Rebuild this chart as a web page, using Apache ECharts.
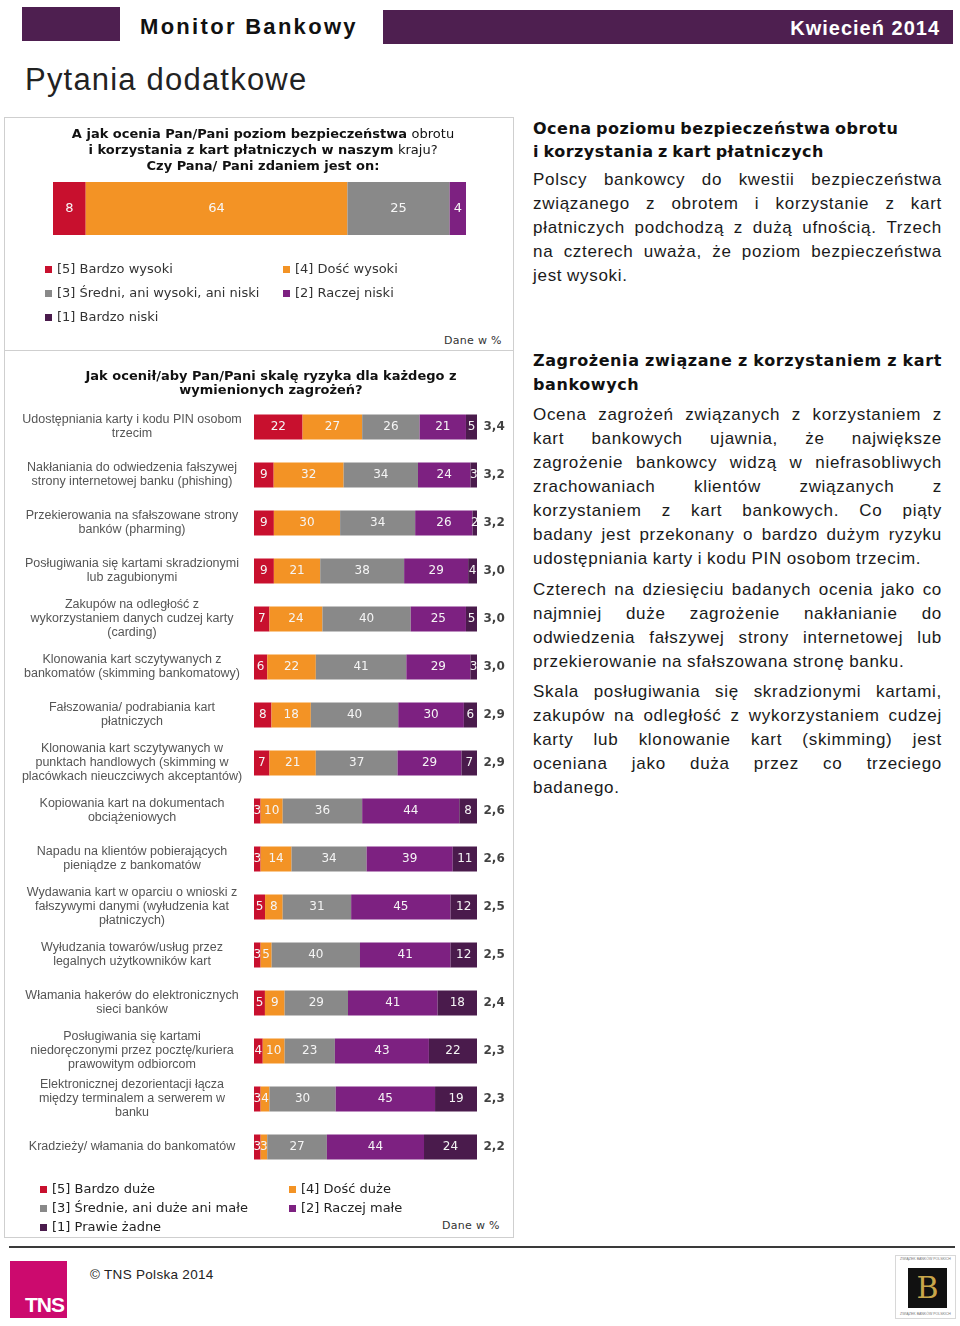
<!DOCTYPE html>
<html><head><meta charset="utf-8">
<script src="https://cdn.jsdelivr.net/npm/echarts@6/dist/echarts.min.js"></script>
<style>
body{margin:0;background:#fff;}
#page{position:relative;width:960px;height:1326px;overflow:hidden;font-family:"Liberation Sans",Arial,sans-serif;color:#222;background:#fff;}
.abs{position:absolute;}
.line{display:flex;justify-content:space-between;white-space:nowrap;}
.line.last{justify-content:flex-start;}
.line.last span{margin-right:0.28em;}
.body{font-family:"Liberation Sans",Arial,sans-serif;font-size:17px;line-height:24px;color:#1a1a1a;letter-spacing:0.7px;}
.head{font-family:"DejaVu Sans",Verdana,sans-serif;font-weight:bold;font-size:16px;color:#111;}
</style>
</head><body>
<div id="page">
  <!-- header -->
  <div class="abs" style="left:22px;top:7px;width:98px;height:34px;background:#4E1F50;"></div>
  <div class="abs" style="left:140px;top:12px;font-weight:bold;font-size:22px;letter-spacing:2.3px;color:#111;line-height:30px;">Monitor Bankowy</div>
  <div class="abs" style="left:383px;top:10px;width:570px;height:34px;background:#4E1F50;"></div>
  <div class="abs" style="right:20px;top:13px;font-weight:bold;font-size:20px;letter-spacing:1px;color:#fff;line-height:30px;">Kwiecień 2014</div>
  <div class="abs" style="left:25px;top:61px;font-size:31px;letter-spacing:1.2px;color:#222;line-height:38px;">Pytania dodatkowe</div>

  <!-- frames -->
  <div class="abs" style="left:4px;top:117px;width:510px;height:1121px;border:1px solid #cfcfcf;box-sizing:border-box;"></div>
  <div class="abs" style="left:4px;top:350px;width:510px;height:1px;background:#cfcfcf;"></div>
  <div class="abs" style="left:444px;top:334px;font-family:'DejaVu Sans',sans-serif;font-size:11px;letter-spacing:0.3px;color:#333;">Dane w %</div>
  <div class="abs" style="left:442px;top:1219px;font-family:'DejaVu Sans',sans-serif;font-size:11px;letter-spacing:0.3px;color:#333;">Dane w %</div>

  <div id="c1" class="abs" style="left:0;top:117px;width:520px;height:225px;"></div>
  <div id="c2" class="abs" style="left:0;top:351px;width:520px;height:885px;"></div>

  <!-- footer -->
  <div class="abs" style="left:9px;top:1246px;width:946px;height:2px;background:#3a3a3a;"></div>
  <div class="abs" style="left:10px;top:1261px;width:57px;height:57px;background:#CC0A6E;"></div>
  <div class="abs" style="left:10px;top:1292px;width:54px;text-align:right;font-weight:bold;font-size:21px;color:#fff;letter-spacing:-1px;line-height:26px;">TNS</div>
  <div class="abs" style="left:90px;top:1266px;font-size:13.5px;color:#222;letter-spacing:0.3px;line-height:18px;">© TNS Polska 2014</div>
  <div class="abs" style="left:895px;top:1255px;width:61px;height:64px;border:1px solid #d8d8d8;box-sizing:border-box;"></div>
  <div class="abs" style="left:897px;top:1257px;width:57px;text-align:center;font-size:3.5px;color:#777;line-height:5px;">ZWIĄZEK BANKÓW POLSKICH</div>
  <div class="abs" style="left:897px;top:1312px;width:57px;text-align:center;font-size:3.5px;color:#777;line-height:5px;">ZWIĄZEK BANKÓW POLSKICH</div>
  <div class="abs" style="left:908px;top:1268px;width:39px;height:40px;background:#111;"></div>
  <div class="abs" style="left:908px;top:1268px;width:39px;text-align:center;font-family:'DejaVu Serif',serif;font-size:30px;line-height:40px;color:#C9A64A;">B</div>
</div>

<script>
// ---------- DATA ----------
const topSeriesNames = ['[5] Bardzo wysoki','[4] Dość wysoki','[3] Średni, ani wysoki, ani niski','[2] Raczej niski','[1] Bardzo niski'];
const topValues = [8, 64, 25, 4, 0];

const riskSeriesNames = ['[5] Bardzo duże','[4] Dość duże','[3] Średnie, ani duże ani małe','[2] Raczej małe','[1] Prawie żadne'];
const riskCategories = [
  'Udostępniania karty i kodu PIN osobom\ntrzecim',
  'Nakłaniania do odwiedzenia fałszywej\nstrony internetowej banku (phishing)',
  'Przekierowania na sfałszowane strony\nbanków (pharming)',
  'Posługiwania się kartami skradzionymi\nlub zagubionymi',
  'Zakupów na odległość z\nwykorzystaniem danych cudzej karty\n(carding)',
  'Klonowania kart sczytywanych z\nbankomatów (skimming bankomatowy)',
  'Fałszowania/ podrabiania kart\npłatniczych',
  'Klonowania kart sczytywanych w\npunktach handlowych (skimming w\nplacówkach nieuczciwych akceptantów)',
  'Kopiowania kart na dokumentach\nobciążeniowych',
  'Napadu na klientów pobierających\npieniądze z bankomatów',
  'Wydawania kart w oparciu o wnioski z\nfałszywymi danymi (wyłudzenia kat\npłatniczych)',
  'Wyłudzania towarów/usług przez\nlegalnych użytkowników kart',
  'Włamania hakerów do elektronicznych\nsieci banków',
  'Posługiwania się kartami\nniedoręczonymi przez pocztę/kuriera\nprawowitym odbiorcom',
  'Elektronicznej dezorientacji łącza\nmiędzy terminalem a serwerem w\nbanku',
  'Kradzieży/ włamania do bankomatów'
];
const risk5 = [22, 9, 9, 9, 7, 6, 8, 7, 3, 3, 5, 3, 5, 4, 3, 3];
const risk4 = [27,32,30,21,24,22,18,21,10,14, 8, 5, 9,10, 4, 3];
const risk3 = [26,34,34,38,40,41,40,37,36,34,31,40,29,23,30,27];
const risk2 = [21,24,26,29,25,29,30,29,44,39,45,41,41,43,45,44];
const risk1 = [ 5, 3, 2, 4, 5, 3, 6, 7, 8,11,12,12,18,22,19,24];
const riskMeans = ['3,4','3,2','3,2','3,0','3,0','3,0','2,9','2,9','2,6','2,6','2,5','2,5','2,4','2,3','2,3','2,2'];

const colors = ['#C8102E','#F39325','#898989','#7D2181','#4A1B4C'];

// ---------- RIGHT TEXT ----------
const heading1 = ['Ocena poziomu bezpieczeństwa obrotu','i korzystania z kart płatniczych'];
const para1 = ['Polscy bankowcy do kwestii bezpieczeństwa','związanego z obrotem i korzystanie z kart','płatniczych podchodzą z dużą ufnością. Trzech','na czterech uważa, że poziom bezpieczeństwa','jest wysoki.'];
const heading2 = ['Zagrożenia związane z korzystaniem z kart','bankowych'];
const para2 = ['Ocena zagrożeń związanych z korzystaniem z','kart bankowych ujawnia, że największe','zagrożenie bankowcy widzą w niefrasobliwych','zrachowaniach klientów związanych z','korzystaniem z kart bankowych. Co piąty','badany jest przekonany o bardzo dużym ryzyku','udostępniania karty i kodu PIN osobom trzecim.'];
const para3 = ['Czterech na dziesięciu badanych ocenia jako co','najmniej duże zagrożenie nakłanianie do','odwiedzenia fałszywej strony internetowej lub','przekierowanie na sfałszowana stronę banku.'];
const para4 = ['Skala posługiwania się skradzionymi kartami,','zakupów na odległość z wykorzystaniem cudzej','karty lub klonowanie kart (skimming) jest','oceniana jako duża przez co trzeciego','badanego.'];

function block(lines, top, cls, lh, extraStyle){
  const d = document.createElement('div');
  d.className = 'abs ' + cls;
  d.style.left = '533px'; d.style.top = top + 'px'; d.style.width = '409px';
  d.style.lineHeight = lh + 'px';
  if (extraStyle) Object.assign(d.style, extraStyle);
  lines.forEach((ln, i) => {
    const l = document.createElement('div');
    const isLast = (i === lines.length - 1);
    l.className = 'line' + (isLast ? ' last' : '');
    ln.split(' ').forEach(w => { const s = document.createElement('span'); s.textContent = w; l.appendChild(s); });
    d.appendChild(l);
  });
  document.getElementById('page').appendChild(d);
  return d;
}
const h1 = block(heading1, 117, 'head', 23, {letterSpacing:'0.5px'});
h1.querySelectorAll('.line').forEach(l => l.className = 'line last');
block(para1, 168, 'body', 24);
block(heading2, 349, 'head', 24, {letterSpacing:'0.6px'});
block(para2, 403, 'body', 24);
block(para3, 578, 'body', 24);
block(para4, 680, 'body', 24);

// ---------- CHART 1 ----------
const topSum = topValues.reduce((a,b)=>a+b,0);
const c1 = echarts.init(document.getElementById('c1'), null, {renderer:'canvas'});
c1.setOption({
  animation:false,
  title:{
    text:'{b|A jak ocenia Pan/Pani poziom bezpieczeństwa }{n|obrotu}\n{b|i korzystania z kart płatniczych w naszym }{n|kraju?}\n{b|Czy Pana/ Pani zdaniem jest on:}',
    left:258, top:5, textAlign:'center',
    textStyle:{fontFamily:'DejaVu Sans', fontSize:13, lineHeight:16, color:'#111',
      rich:{b:{fontFamily:'DejaVu Sans', fontWeight:'bold', fontSize:13, lineHeight:16, color:'#111'},
            n:{fontFamily:'DejaVu Sans', fontWeight:'normal', fontSize:13, lineHeight:16, color:'#111'}}}
  },
  grid:{left:53, top:65, width:413, height:53},
  xAxis:{type:'value', min:0, max:100, show:false},
  yAxis:{type:'category', data:[''], show:false},
  legend: topSeriesNames.map((n,i)=>({
    data:[n], icon:'rect', itemWidth:7, itemHeight:7, itemGap:0, padding:0, selectedMode:false,
    left: (i%2===0) ? 45 : 283,
    top: [146,146,170,170,194][i],
    textStyle:{fontFamily:'DejaVu Sans', fontSize:13, color:'#333'}
  })),
  series: topSeriesNames.map((n,i)=>({
    name:n, type:'bar', stack:'t', barWidth:53,
    itemStyle:{color:colors[i]},
    label:{show:true, position:'inside', color:'#f7f7f7', fontFamily:'DejaVu Sans', fontSize:13,
      formatter:p=> p.data.raw ? String(p.data.raw) : ''},
    data:[{value: topValues[i]/topSum*100, raw: topValues[i]}]
  }))
});

// ---------- CHART 2 ----------
const riskSeries = [risk5, risk4, risk3, risk2, risk1];
const rowSums = riskCategories.map((_,r)=>riskSeries.reduce((a,s)=>a+s[r],0));
const c2 = echarts.init(document.getElementById('c2'), null, {renderer:'canvas'});
const series2 = riskSeriesNames.map((n,i)=>({
  name:n, type:'bar', stack:'r', barWidth:25,
  itemStyle:{color:colors[i]},
  label:{show:true, position:'inside', color:'#f5f5f5', fontFamily:'DejaVu Sans', fontSize:12,
    formatter:p=>String(p.data.raw)},
  data: riskSeries[i].map((v,r)=>({value: v/rowSums[r]*100, raw:v}))
}));
series2.push({
  name:'mean', type:'scatter', symbolSize:1, itemStyle:{color:'rgba(0,0,0,0)'},
  label:{show:true, position:'right', distance:6, fontFamily:'DejaVu Sans', fontWeight:'bold', fontSize:12, color:'#111',
    formatter:p=>riskMeans[p.dataIndex]},
  data: riskMeans.map((m,r)=>[100, r])
});
c2.setOption({
  animation:false,
  title:{
    text:'Jak ocenił/aby Pan/Pani skalę ryzyka dla każdego z\nwymienionych zagrożeń?',
    left:266, top:14, textAlign:'center',
    textStyle:{fontFamily:'DejaVu Sans', fontWeight:'bold', fontSize:13, lineHeight:14, color:'#111'}
  },
  grid:{left:254, top:52, width:223, height:768},
  xAxis:{type:'value', min:0, max:100, show:false},
  yAxis:{type:'category', data:riskCategories, inverse:true,
    axisLine:{show:false}, axisTick:{show:false},
    axisLabel:{align:'center', margin:122, lineHeight:14, fontFamily:'Liberation Sans', fontSize:12.5, color:'#555'}},
  legend: riskSeriesNames.map((n,i)=>({
    data:[n], icon:'rect', itemWidth:7, itemHeight:7, itemGap:0, padding:0, selectedMode:false,
    left: (i%2===0) ? 40 : 289,
    top: [832,832,851,851,870][i],
    textStyle:{fontFamily:'DejaVu Sans', fontSize:13, color:'#222'}
  })),
  series: series2
});
</script>
</body></html>
